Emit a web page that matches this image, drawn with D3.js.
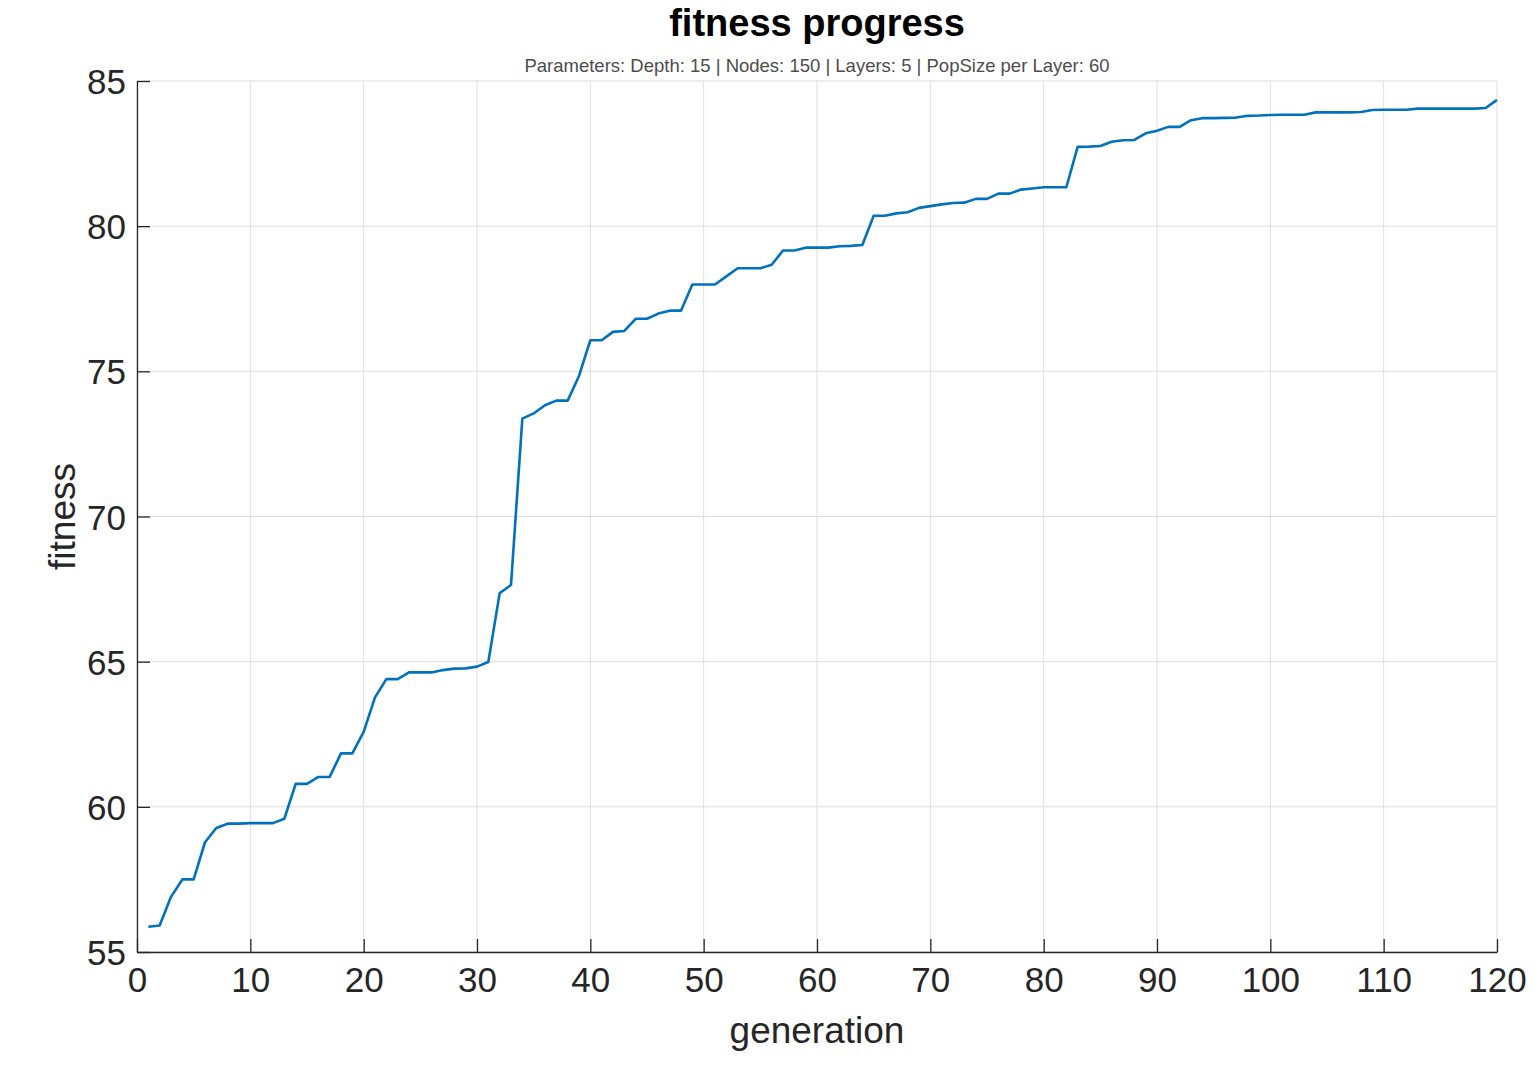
<!DOCTYPE html>
<html>
<head>
<meta charset="utf-8">
<script src="https://cdn.jsdelivr.net/npm/d3@7"></script>
<style>
  body { margin: 0; background: #fff; }
  text { font-family: "Liberation Sans", Arial, Helvetica, sans-serif; }
</style>
</head>
<body>
<svg class="chart"></svg>
<script>

//
// data
//

var generations = d3.range(1, 121);
var fitness = [
    55.87, 55.91, 56.90, 57.50, 57.50, 58.78, 59.27, 59.42, 59.42, 59.44,
    59.44, 59.44, 59.59, 60.79, 60.79, 61.03, 61.03, 61.84, 61.84, 62.58,
    63.77, 64.40, 64.40, 64.63, 64.63, 64.63, 64.71, 64.76, 64.77, 64.83,
    64.99, 67.36, 67.64, 73.37, 73.55, 73.83, 73.99, 73.99, 74.84, 76.07,
    76.07, 76.36, 76.39, 76.81, 76.81, 76.99, 77.09, 77.09, 77.99, 77.99,
    77.99, 78.27, 78.55, 78.55, 78.55, 78.67, 79.16, 79.16, 79.26, 79.26,
    79.26, 79.31, 79.32, 79.35, 80.36, 80.36, 80.44, 80.48, 80.63, 80.69,
    80.75, 80.80, 80.81, 80.94, 80.94, 81.12, 81.12, 81.26, 81.30, 81.34,
    81.34, 81.34, 82.73, 82.74, 82.76, 82.91, 82.96, 82.97, 83.20, 83.29,
    83.42, 83.42, 83.65, 83.72, 83.72, 83.73, 83.74, 83.80, 83.81, 83.83,
    83.84, 83.84, 83.84, 83.92, 83.92, 83.92, 83.92, 83.93, 84.00, 84.01,
    84.01, 84.01, 84.05, 84.05, 84.05, 84.05, 84.05, 84.05, 84.07, 84.35
];
var x_ticks = d3.range(0, 121, 10);
var y_ticks = [55, 60, 65, 70, 75, 80, 85];

var title_text = "fitness progress";
var subtitle_text = "Parameters: Depth: 15 | Nodes: 150 | Layers: 5 | PopSize per Layer: 60";

//
// scene
//

var width = 1535, height = 1066;
var margin = { left: 137, right: 38, top: 81, bottom: 114 };
var inner_w = width - margin.left - margin.right,
    inner_h = height - margin.top - margin.bottom;

var svg = d3.select(".chart")
    .attr("width", width)
    .attr("height", height);

var x = d3.scaleLinear().domain([0, 120]).range([0, inner_w]);
var y = d3.scaleLinear().domain([55, 85]).range([inner_h, 0]);

var plot = svg.append("g")
    .attr("transform", "translate(" + margin.left + "," + margin.top + ")");

// grid
plot.append("g").selectAll("line")
    .data(x_ticks)
    .enter().append("line")
    .attr("x1", function (d) { return x(d); })
    .attr("x2", function (d) { return x(d); })
    .attr("y1", 0)
    .attr("y2", inner_h)
    .attr("stroke", "#dfdfdf")
    .attr("stroke-width", 1);
plot.append("g").selectAll("line")
    .data(y_ticks)
    .enter().append("line")
    .attr("x1", 0)
    .attr("x2", inner_w)
    .attr("y1", function (d) { return y(d); })
    .attr("y2", function (d) { return y(d); })
    .attr("stroke", "#dfdfdf")
    .attr("stroke-width", 1);

// axes (ticks point inward)
var x_axis = plot.append("g")
    .attr("transform", "translate(0," + inner_h + ")")
    .call(d3.axisBottom(x).tickValues(x_ticks).tickSizeInner(-13).tickSizeOuter(0).tickPadding(20));
var y_axis = plot.append("g")
    .call(d3.axisLeft(y).tickValues(y_ticks).tickSizeInner(-13).tickSizeOuter(0).tickPadding(11));

[x_axis, y_axis].forEach(function (a) {
    a.select(".domain").attr("stroke", "#262626").attr("stroke-width", 1.3);
    a.selectAll(".tick line").attr("stroke", "#262626").attr("stroke-width", 1.3);
    a.selectAll(".tick text")
        .attr("fill", "#262626")
        .style("font-family", "'Liberation Sans', Arial, sans-serif")
        .style("font-size", "35px");
});
x_axis.selectAll(".tick text").attr("dy", "0.71em").attr("y", 15);
y_axis.selectAll(".tick text").attr("dy", "0.36em");

// line
var line = d3.line()
    .x(function (d, i) { return x(generations[i]); })
    .y(function (d) { return y(d); });

plot.append("path")
    .datum(fitness)
    .attr("d", line)
    .attr("fill", "none")
    .attr("stroke", "#0072BD")
    .attr("stroke-width", 2.6)
    .attr("stroke-linejoin", "round");

// labels
svg.append("text")
    .attr("x", margin.left + inner_w / 2)
    .attr("y", 1043)
    .attr("text-anchor", "middle")
    .attr("fill", "#262626")
    .style("font-size", "37px")
    .text("generation");

svg.append("text")
    .attr("transform", "translate(75," + (margin.top + inner_h / 2) + ") rotate(-90)")
    .attr("text-anchor", "middle")
    .attr("fill", "#262626")
    .style("font-size", "37px")
    .text("fitness");

svg.append("text")
    .attr("x", margin.left + inner_w / 2)
    .attr("y", 36)
    .attr("text-anchor", "middle")
    .attr("fill", "#000")
    .style("font-size", "38px")
    .style("font-weight", "bold")
    .text(title_text);

svg.append("text")
    .attr("x", margin.left + inner_w / 2)
    .attr("y", 72)
    .attr("text-anchor", "middle")
    .attr("fill", "#4d4d4d")
    .style("font-size", "18.5px")
    .text(subtitle_text);

</script>
</body>
</html>
